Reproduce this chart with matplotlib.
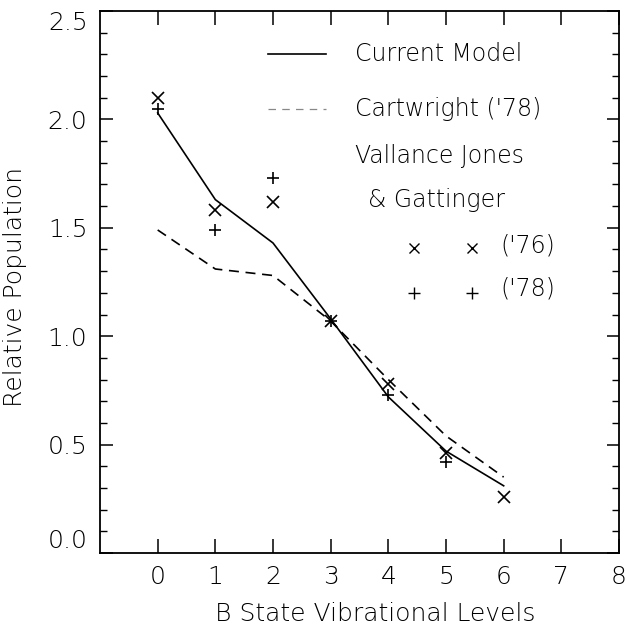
import matplotlib
matplotlib.use("Agg")
import matplotlib.pyplot as plt
import numpy as np

# vibrational levels
levels = [0, 1, 2, 3, 4, 5, 6]
# current model (solid line)
current_model = [2.03, 1.63, 1.43, 1.08, 0.72, 0.47, 0.31]
# Cartwright ('78), dashed line
cartwright = [1.49, 1.31, 1.28, 1.07, 0.80, 0.54, 0.35]
# Vallance Jones & Gattinger ('76), x markers
vjg76_x = [0, 1, 2, 3, 4, 5, 6]
vjg76_y = [2.10, 1.58, 1.62, 1.07, 0.78, 0.46, 0.26]
# Vallance Jones & Gattinger ('78), + markers
vjg78_x = [0, 1, 2, 3, 4, 5]
vjg78_y = [2.05, 1.49, 1.73, 1.07, 0.73, 0.42]

x_ticks = [0, 1, 2, 3, 4, 5, 6, 7, 8]
y_ticks = [0.0, 0.5, 1.0, 1.5, 2.0, 2.5]

plt.rcParams['font.family'] = ['DejaVu Sans']
plt.rcParams['font.weight'] = 'light'
plt.rcParams['axes.labelweight'] = 'light'
fs = 17       # legend text
fs_tick = 18
fs_lab = 18

fig = plt.figure(figsize=(6.26, 6.29), dpi=100)
ax = fig.add_axes([100 / 626, 1 - 553 / 629, 519 / 626, 542 / 629])

ax.plot(levels, current_model, color='black', lw=1.2)
ax.plot(levels, cartwright, color='black', lw=1.2, dashes=(6, 4))
ax.plot(vjg76_x, vjg76_y, 'x', color='black', ms=8, mew=1.2)
ax.plot(vjg78_x, vjg78_y, '+', color='black', ms=9, mew=1.2)

# hand-made legend inside the plot
ax.plot([1.92, 2.92], [2.30, 2.30], color='black', lw=1.2)
ax.plot([1.92, 2.92], [2.05, 2.05], color='#888888', lw=0.9, dashes=(6, 5))
ax.text(3.42, 2.30, "Current Model", fontsize=fs, va='center')
ax.text(3.42, 2.05, "Cartwright ('78)", fontsize=fs, va='center')
ax.text(3.42, 1.83, "Vallance Jones", fontsize=fs, va='center')
ax.text(3.64, 1.63, "& Gattinger", fontsize=fs, va='center')
ax.plot([4.45, 5.45], [1.405, 1.405], 'x', color='black', ms=7, mew=1.0)
ax.plot([4.45, 5.45], [1.20, 1.20], '+', color='black', ms=8, mew=1.0)
ax.text(5.94, 1.42, "('76)", fontsize=fs, va='center')
ax.text(5.94, 1.22, "('78)", fontsize=fs, va='center')

ax.set_xlim(-1, 8)
ax.set_ylim(0, 2.5)
ax.set_xticks(x_ticks)
ax.set_yticks(y_ticks)
ax.set_yticklabels([f"{v:.1f}" for v in y_ticks])
ax.set_yticks(np.arange(0, 2.5, 0.1), minor=True)
ax.tick_params(which='major', direction='in', length=9, width=1.1,
               top=True, right=True, labelsize=fs_tick, pad=9)
ax.tick_params(which='minor', direction='in', length=5, width=1.0,
               left=True, right=True)
ax.tick_params(axis='x', which='major', length=10, pad=9)
labels = ax.get_yticklabels()
labels[0].set_va('bottom')
labels[-1].set_va('top')
for s in ax.spines.values():
    s.set_linewidth(1.3)

ax.set_xlabel("B State Vibrational Levels", fontsize=fs_lab, fontweight='light')
ax.set_ylabel("Relative Population", fontsize=fs_lab, fontweight='light')
ax.xaxis.set_label_coords(0.53, -0.09)
ax.yaxis.set_label_coords(-0.14, 0.49)

fig.savefig("out.png", dpi=100)
